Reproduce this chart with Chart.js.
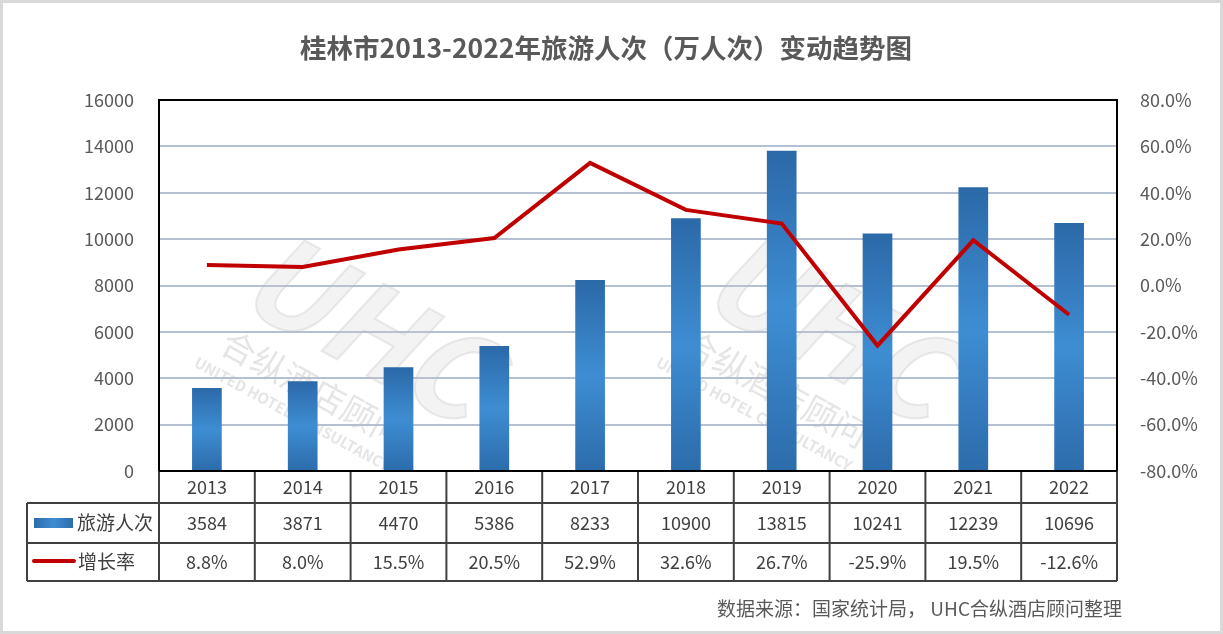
<!DOCTYPE html>
<html>
<head>
<meta charset="utf-8">
<script src="https://cdn.jsdelivr.net/npm/chart.js@4.4.1/dist/chart.umd.min.js"></script>
<style>
    html, body { margin: 0; padding: 0; background: #fff; }
    #wrap { width: 1223px; height: 634px; position: relative; }
</style>
</head>
<body>
<div id="wrap"><canvas id="cvChart" width="1223" height="634"></canvas></div>
<script>
const years = ["2013", "2014", "2015", "2016", "2017", "2018", "2019", "2020", "2021", "2022"];
const visitors = [3584, 3871, 4470, 5386, 8233, 10900, 13815, 10241, 12239, 10696];
const growth = [8.8, 8.0, 15.5, 20.5, 52.9, 32.6, 26.7, -25.9, 19.5, -12.6];
const titleText = "桂林市2013-2022年旅游人次（万人次）变动趋势图";
const sourceText = "数据来源：国家统计局， UHC合纵酒店顾问整理";
const barLabel = "旅游人次";
const lineLabel = "增长率";

const FONT = '"Noto Sans CJK SC", "Noto Sans", sans-serif';
const TXT = "#595959";
const LINE = "#404040";

// vertical dark-light-dark gradient per bar, like the excel fill
const barFill = (ctx) => {
    const chart = ctx.chart;
    const area = chart.chartArea;
    if (!area || ctx.type !== "data") return "#2e75b6";
    const top = chart.scales.y.getPixelForValue(ctx.raw);
    const g = chart.ctx.createLinearGradient(0, top, 0, area.bottom);
    g.addColorStop(0, "#2b69a8");
    g.addColorStop(0.5, "#3e8dd3");
    g.addColorStop(1, "#2c6cab");
    return g;
};

const tablePlugin = {
    id: "tablePlugin",
    beforeDatasetsDraw(chart) {
        // faint watermark
        const c = chart.ctx;
        c.save();
        [0, 462].forEach(dx => {
            c.save();
            c.translate(262 + dx, 250);
            c.rotate(0.5);
            c.fillStyle = "rgba(200,200,200,0.22)";
            c.strokeStyle = "rgba(190,190,190,0.3)";
            c.lineWidth = 2;
            c.font = "italic bold 120px " + FONT;
            c.fillText("UHC", 0, 60);
            c.strokeText("UHC", 0, 60);
            c.font = "34px " + FONT;
            c.fillStyle = "rgba(190,190,190,0.4)";
            c.fillText("合纵酒店顾问", 10, 110);
            c.font = "bold 15px " + FONT;
            c.fillText("UNITED HOTEL CONSULTANCY", -5, 135);
            c.restore();
        });
        c.restore();
    },
    afterDraw(chart) {
        const c = chart.ctx;
        const a = chart.chartArea;
        const x = chart.scales.x;
        const colW = (a.right - a.left) / years.length;
        const r0 = a.bottom, r1 = a.bottom + 32, r2 = r1 + 40, r3 = r2 + 38;
        const legL = 27;
        c.save();

        // title
        c.fillStyle = TXT;
        c.font = "bold 26.5px " + FONT;
        c.textAlign = "center";
        c.textBaseline = "middle";
        c.fillText(titleText, 606, 48);

        // source
        c.font = "19px " + FONT;
        c.textAlign = "right";
        c.fillText(sourceText, 1122, 609);

        // table grid
        c.strokeStyle = LINE;
        c.lineWidth = 2;
        c.beginPath();
        c.moveTo(legL, r1); c.lineTo(a.right, r1);
        c.moveTo(legL, r2); c.lineTo(a.right, r2);
        c.moveTo(legL, r3); c.lineTo(a.right, r3);
        c.moveTo(legL, r1); c.lineTo(legL, r3);
        for (let i = 1; i < years.length; i++) {
            const xx = a.left + colW * i;
            c.moveTo(xx, r0); c.lineTo(xx, r3);
        }
        c.moveTo(a.left, r0); c.lineTo(a.left, r3);
        c.moveTo(a.right, r0); c.lineTo(a.right, r3);
        c.stroke();

        // plot frame
        c.strokeStyle = "#000";
        c.beginPath();
        c.moveTo(a.left, a.bottom); c.lineTo(a.left, a.top); c.lineTo(a.right, a.top); c.lineTo(a.right, a.bottom);
        c.moveTo(a.left, a.bottom); c.lineTo(a.right, a.bottom);
        c.stroke();

        // cells
        c.fillStyle = LINE;
        c.font = "18px " + FONT;
        c.textAlign = "center";
        years.forEach((y, i) => {
            const cx = x.getPixelForValue(i);
            c.fillText(y, cx, (r0 + r1) / 2);
            c.fillText(String(visitors[i]), cx, (r1 + r2) / 2);
            c.fillText(growth[i].toFixed(1) + "%", cx, (r2 + r3) / 2);
        });

        // legend keys
        const lg = c.createLinearGradient(34, 0, 73, 0);
        lg.addColorStop(0, "#2c6cab");
        lg.addColorStop(0.5, "#3e8dd3");
        lg.addColorStop(1, "#2c6cab");
        c.fillStyle = lg;
        c.fillRect(34, (r1 + r2) / 2 - 5, 39, 10);
        c.strokeStyle = "#c00000";
        c.lineWidth = 4;
        c.lineCap = "round";
        c.beginPath();
        c.moveTo(34, (r2 + r3) / 2 - 1); c.lineTo(74, (r2 + r3) / 2 - 1);
        c.stroke();
        c.fillStyle = LINE;
        c.textAlign = "left";
        c.font = "19px " + FONT;
        c.fillText(barLabel, 77, (r1 + r2) / 2);
        c.fillText(lineLabel, 78, (r2 + r3) / 2);

        // outer frame
        c.strokeStyle = "#d9d9d9";
        c.lineWidth = 3;
        c.strokeRect(1.5, 1.5, 1220, 631);
        c.restore();
    }
};

const ctx = document.getElementById("cvChart").getContext("2d");
const myChart = new Chart(ctx, {
    type: "bar",
    data: {
        labels: years,
        datasets: [{
            type: "line",
            label: lineLabel,
            data: growth,
            yAxisID: "y1",
            borderColor: "#c00000",
            borderWidth: 4,
            pointRadius: 0,
            tension: 0,
            order: 0
        }, {
            type: "bar",
            label: barLabel,
            data: visitors,
            yAxisID: "y",
            backgroundColor: barFill,
            barPercentage: 0.31,
            categoryPercentage: 1,
            order: 1
        }]
    },
    options: {
        responsive: false,
        animation: false,
        layout: { padding: { top: 100, left: 0, right: 0, bottom: 0 } },
        plugins: {
            legend: { display: false },
            title: { display: false },
            tooltip: { enabled: false }
        },
        scales: {
            x: {
                grid: { display: false },
                border: { display: false },
                ticks: { display: false },
                afterFit: (s) => { s.height = 163; }
            },
            y: {
                position: "left",
                min: 0,
                max: 16000,
                ticks: {
                    stepSize: 2000,
                    color: TXT,
                    font: { size: 18, family: FONT },
                    padding: 25,
                    callback: (v) => String(v)
                },
                grid: { color: "#b4c0d4", lineWidth: 2, drawTicks: false },
                border: { display: false },
                afterFit: (s) => { s.width = 159; }
            },
            y1: {
                position: "right",
                min: -80,
                max: 80,
                ticks: {
                    stepSize: 20,
                    color: TXT,
                    font: { size: 18, family: FONT },
                    padding: 23,
                    callback: (v) => v.toFixed(1) + "%"
                },
                grid: { display: false, drawTicks: false },
                border: { display: false },
                afterFit: (s) => { s.width = 106; }
            }
        }
    },
    plugins: [tablePlugin]
});
</script>
</body>
</html>
